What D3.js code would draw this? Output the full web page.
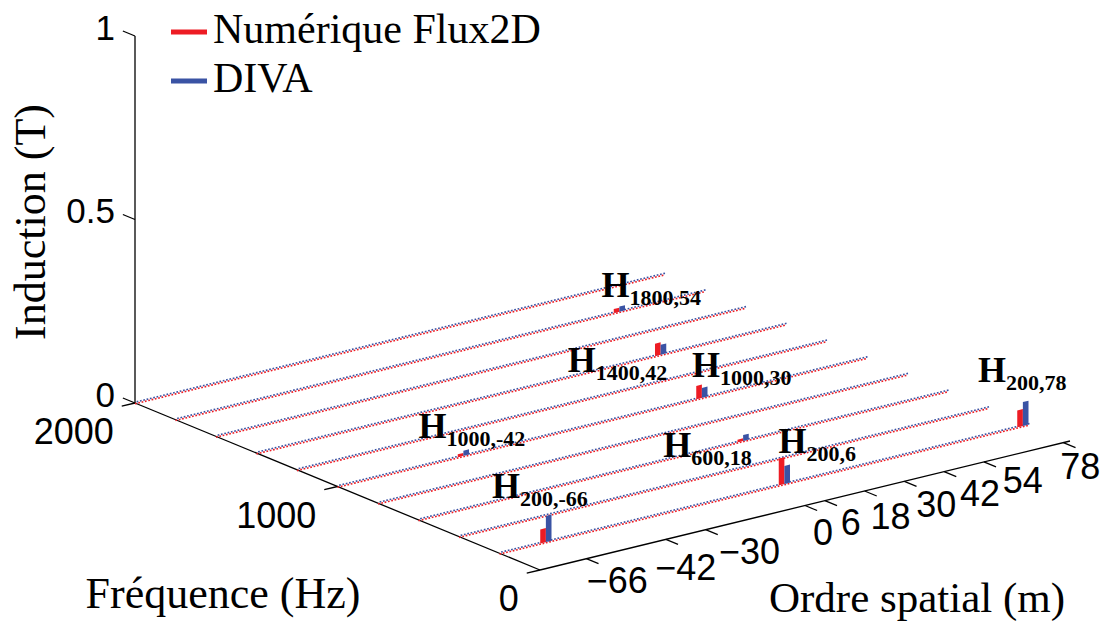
<!DOCTYPE html>
<html>
<head>
<meta charset="utf-8">
<script src="https://cdn.jsdelivr.net/npm/d3@7"></script>
<style>body{margin:0;background:#fff}</style>
</head>
<body>
<svg id="chart" width="1107" height="621"></svg>
<script>
// frequencies with a (near-zero) harmonic row, and axis ticks
const freqRows = [200, 400, 600, 800, 1000, 1200, 1400, 1600, 1800, 2000];
const freqTicks = [0, 1000, 2000];
const orderTicks = [-66, -42, -30, 0, 6, 18, 30, 42, 54, 78];
const zTicks = [0, 0.5, 1];

// labelled harmonics
const harmFreq  = [200, 200, 200, 600, 1000, 1000, 1400, 1800];
const harmOrder = [-66, 6, 78, 18, -42, 30, 42, 54];
const flux2d    = [0.038, 0.073, 0.046, 0.007, 0.008, 0.036, 0.034, 0.011];
const diva      = [0.071, 0.049, 0.065, 0.016, 0.014, 0.027, 0.027, 0.014];

// label placement (pixels from the bar foot)
const labelNudge = [[-54, -44], [-6, -31], [-45, -44], [-80, 16], [-45, -18], [-10, -21], [-93, 17], [-18, -15]];
// spatial tick label nudges (pixels)
const orderNudge = [[3, -2], [-8, 5], [16, -2], [-10, 3], [-2, -2], [-2, 2], [4, 0], [8, -2], [11, -5], [-11, 0]];

const svg = d3.select("#chart");
const red = "#ed1c24", blue = "#3a53a4";
const serif = "'Liberation Serif', 'Times New Roman', serif";
const sans = "'Liberation Sans', Arial, sans-serif";

// oblique projection of (frequency, order, induction)
const ox = 540, oy = 570;
const fX = d3.scaleLinear().domain([0, 2000]).range([0, -405]);
const fY = d3.scaleLinear().domain([0, 2000]).range([0, -167]);
const mX = d3.scaleLinear().domain([-80, 80]).range([0, 530]);
const mY = d3.scaleLinear().domain([-80, 80]).range([0, -129]);
const zY = d3.scaleLinear().domain([0, 1]).range([0, -367]);
function proj(f, m, z) {
  return [ox + fX(f) + mX(m), oy + fY(f) + mY(m) + zY(z)];
}

const line = d3.line();
const dash = Math.hypot(mX(-79) - mX(-80), mY(-79) - mY(-80)) / 2;

// axes
const axes = svg.append("g").attr("stroke", "#000").attr("stroke-width", 1.3).attr("fill", "none");
axes.append("path").attr("d", line([proj(0, -80, 0), proj(0, 80, 0)]));
axes.append("path").attr("d", line([proj(0, -80, 0), proj(2000, -80, 0)]));
axes.append("path").attr("d", line([proj(2000, -80, 0), proj(2000, -80, 1)]));

orderTicks.forEach((m, i) => {
  const a = proj(0, m, 0), b = proj(-60, m, 0);
  axes.append("path").attr("d", line([a, b]));
  svg.append("text")
    .attr("x", a[0] + 28 + orderNudge[i][0])
    .attr("y", a[1] + 36 + orderNudge[i][1])
    .attr("text-anchor", "middle")
    .attr("font-family", sans).attr("font-size", 36)
    .text(m < 0 ? "\u2212" + Math.abs(m) : m);
});

freqTicks.forEach(f => {
  const a = proj(f, -80, 0), b = proj(f, -84, 0);
  axes.append("path").attr("d", line([a, b]));
  svg.append("text")
    .attr("x", b[0] - 8).attr("y", b[1] + 38)
    .attr("text-anchor", "end")
    .attr("font-family", sans).attr("font-size", 36)
    .text(f);
});

zTicks.forEach(z => {
  const a = proj(2000, -80, z), b = proj(2060, -80, z);
  axes.append("path").attr("d", line([a, b]));
  svg.append("text")
    .attr("x", b[0] - 8).attr("y", b[1] + 9)
    .attr("text-anchor", "end")
    .attr("font-family", sans).attr("font-size", 35)
    .text(z);
});

// rows of near-zero harmonics: dotted red/blue
const rows = svg.append("g").attr("fill", "none").attr("stroke-width", 1.6);
freqRows.slice().reverse().forEach(f => {
  const p = [proj(f, -80, 0), proj(f, 80, 0)];
  rows.append("path").attr("d", line(p.map(d => [d[0], d[1] - 0.8])))
    .attr("stroke", blue).attr("stroke-dasharray", dash + "," + dash).attr("stroke-dashoffset", dash);
  rows.append("path").attr("d", line(p.map(d => [d[0], d[1] + 0.8])))
    .attr("stroke", red).attr("stroke-dasharray", dash + "," + dash);
});

// bars
const bw = 1.7;
function face(f, m0, m1, z) {
  return line([proj(f, m0, 0), proj(f, m1, 0), proj(f, m1, z), proj(f, m0, z)]) + "Z";
}
const bars = svg.append("g");
harmFreq.forEach((f, i) => {
  const m = harmOrder[i];
  bars.append("path").attr("d", face(f, m - bw, m, flux2d[i])).attr("fill", red);
  bars.append("path").attr("d", face(f, m, m + bw, diva[i])).attr("fill", blue);
});

// harmonic labels
harmFreq.forEach((f, i) => {
  const m = harmOrder[i];
  const p = proj(f, m, 0);
  const t = svg.append("text")
    .attr("x", p[0] + labelNudge[i][0]).attr("y", p[1] + labelNudge[i][1])
    .attr("font-family", serif).attr("font-weight", "bold");
  t.append("tspan").attr("font-size", 36).text("H");
  t.append("tspan").attr("font-size", 22).attr("dy", 8).text(f + "," + m);
});

// axis titles
svg.append("text")
  .attr("transform", "translate(45,222) rotate(-90)")
  .attr("text-anchor", "middle")
  .attr("font-family", serif).attr("font-size", 44)
  .text("Induction (T)");
svg.append("text")
  .attr("x", 223).attr("y", 608)
  .attr("text-anchor", "middle")
  .attr("font-family", serif).attr("font-size", 44)
  .text("Fréquence (Hz)");
svg.append("text")
  .attr("x", 917).attr("y", 612)
  .attr("text-anchor", "middle")
  .attr("font-family", serif).attr("font-size", 43)
  .text("Ordre spatial (m)");

// legend
const legend = [["Numérique Flux2D", red], ["DIVA", blue]];
legend.forEach((d, i) => {
  const y = 32 + i * 49;
  svg.append("line")
    .attr("x1", 171).attr("x2", 207).attr("y1", y).attr("y2", y)
    .attr("stroke", d[1]).attr("stroke-width", 5);
  svg.append("text")
    .attr("x", 213).attr("y", y + 11)
    .attr("font-family", serif).attr("font-size", 42)
    .text(d[0]);
});
</script>
</body>
</html>
